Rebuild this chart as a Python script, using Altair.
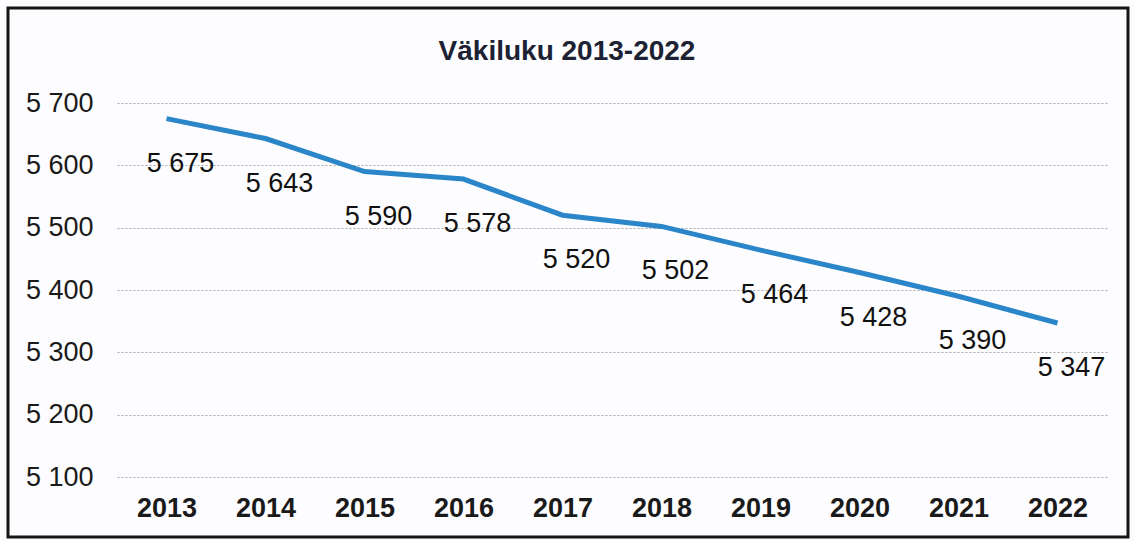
import altair as alt
import pandas as pd

years = ["2013", "2014", "2015", "2016", "2017", "2018", "2019", "2020", "2021", "2022"]
population = [5675, 5643, 5590, 5578, 5520, 5502, 5464, 5428, 5390, 5347]
y_ticks = [5100, 5200, 5300, 5400, 5500, 5600, 5700]
title_text = "Väkiluku 2013-2022"

df = pd.DataFrame({"year": years, "pop": population})
df["label"] = [f"{v:,}".replace(",", " ") for v in population]

FONT = "Liberation Sans, Arial, sans-serif"
PLOT_W, PLOT_H = 990, 374
LEFT, TOP = 117, 103

x = alt.X(
    "year:N",
    sort=years,
    scale=alt.Scale(type="point", padding=0.5),
    axis=alt.Axis(
        title=None, domain=False, ticks=False, labelAngle=0,
        labelFont=FONT, labelFontSize=27, labelFontWeight="bold",
        labelColor="#1a1a1a", labelPadding=18,
    ),
)
y = alt.Y(
    "pop:Q",
    scale=alt.Scale(domain=[5100, 5700], nice=False, zero=False),
    axis=alt.Axis(
        title=None, values=y_ticks, domain=False, ticks=False,
        labelExpr="replace(format(datum.value, ','), ',', ' ')",
        labelFont=FONT, labelFontSize=27, labelColor="#1a1a1a",
        labelPadding=24, grid=True, gridDash=[2, 2], gridColor="#a8a8a8",
        gridWidth=1.2,
    ),
)

base = alt.Chart(df)
line = base.mark_line(color="#2b86c9", strokeWidth=5).encode(x=x, y=y)
labels = base.mark_text(
    font=FONT, fontSize=27, color="#111111", dx=14, dy=45, baseline="middle"
).encode(x=x, y=y, text="label:N")

border = alt.Chart(pd.DataFrame({"a": [0]})).mark_rect(
    fillOpacity=0, stroke="#151515", strokeWidth=3
).encode(
    x=alt.value(8 - LEFT), x2=alt.value(1128 - LEFT),
    y=alt.value(8 - TOP), y2=alt.value(537 - TOP),
)

title = alt.Chart(pd.DataFrame({"t": [title_text]})).mark_text(
    font=FONT, fontSize=28, fontWeight="bold", color="#1c2233",
    align="center", baseline="alphabetic",
).encode(
    text="t:N", x=alt.value(567 - LEFT), y=alt.value(60 - TOP),
)

chart = alt.layer(line, labels, border, title).properties(
    width=PLOT_W, height=PLOT_H,
    autosize=alt.AutoSizeParams(type="none"),
    padding={"left": LEFT, "top": TOP, "right": 1135 - LEFT - PLOT_W, "bottom": 541 - TOP - PLOT_H},
    background="#fdfdff",
).configure_view(strokeWidth=0)

chart.save("out.html", embed_options={"renderer": "svg", "actions": False})
